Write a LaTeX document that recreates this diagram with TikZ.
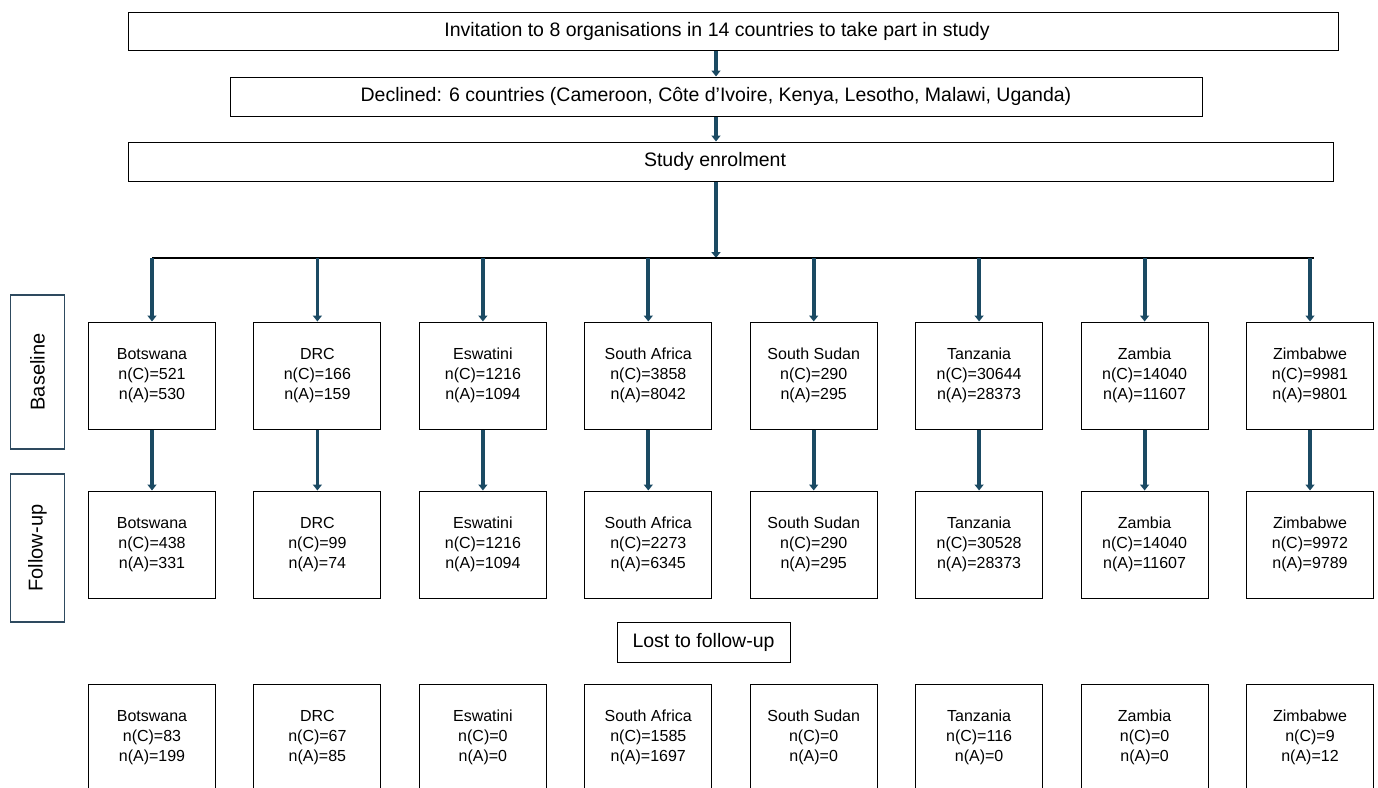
\documentclass[tikz,border=0pt]{standalone}
\usepackage{fontspec}
\setmainfont{Liberation Sans}
\usetikzlibrary{arrows.meta, positioning}
\definecolor{arrowblue}{HTML}{1B4A63}
\definecolor{sideblue}{HTML}{2E4A5F}
\tikzset{
    flowbox/.style={draw, line width=1pt, minimum height=38pt, inner sep=0pt, font=\fontsize{19.5}{22}\selectfont},
    countrybox/.style={draw, line width=1pt, minimum width=127pt, minimum height=107pt, inner sep=0pt, align=center, font=\fontsize{16}{20}\selectfont},
    sidebox/.style={draw=sideblue, line width=1.2pt, rotate=90, minimum height=54pt, inner sep=0pt, font=\fontsize{20}{22}\selectfont},
    flowarrow/.style={draw=arrowblue, line width=3.8pt, -{Triangle[width=9pt, length=6pt]}}
}

\begin{document}
\begin{tikzpicture}[x=1pt, y=-1pt]
    \useasboundingbox (0, 0) rectangle (1378, 787);
    \clip (0, 0) rectangle (1378, 787);
    % top of the flow
    \node[flowbox, minimum width=1210pt] (invite) at (733, 31.5) {\hspace*{-32pt}Invitation to 8 organisations in 14 countries to take part in study};
    \node[flowbox, minimum width=972pt, minimum height=39pt] (declined) at (716, 96.5) {Declined: 6 countries (Cameroon, Côte d'Ivoire, Kenya, Lesotho, Malawi, Uganda)};
    \node[flowbox, minimum width=1205pt, minimum height=39pt] (enrol) at (730.5, 161.5) {\hspace*{-31pt}Study enrolment};
    \coordinate (bushub) at (716, 258);
    \coordinate (busL) at (152, 258);
    \coordinate (busR) at (1314, 258);
    % side labels
    \node[sidebox, minimum width=154pt] (baseline) at (37.5, 372) {Baseline};
    \node[sidebox, minimum width=148pt] (followup) at (37.5, 548) {Follow-up};
    % baseline
    \node[countrybox] (b1) at (152, 375.5) {Botswana\\n(C)=521\\n(A)=530};
    \node[countrybox] (b2) at (317.4, 375.5) {DRC\\n(C)=166\\n(A)=159};
    \node[countrybox] (b3) at (482.9, 375.5) {Eswatini\\n(C)=1216\\n(A)=1094};
    \node[countrybox] (b4) at (648.3, 375.5) {South Africa\\n(C)=3858\\n(A)=8042};
    \node[countrybox] (b5) at (813.7, 375.5) {South Sudan\\n(C)=290\\n(A)=295};
    \node[countrybox] (b6) at (979.1, 375.5) {Tanzania\\n(C)=30644\\n(A)=28373};
    \node[countrybox] (b7) at (1144.6, 375.5) {Zambia\\n(C)=14040\\n(A)=11607};
    \node[countrybox] (b8) at (1310, 375.5) {Zimbabwe\\n(C)=9981\\n(A)=9801};
    % follow-up
    \node[countrybox] (f1) at (152, 544.5) {Botswana\\n(C)=438\\n(A)=331};
    \node[countrybox] (f2) at (317.4, 544.5) {DRC\\n(C)=99\\n(A)=74};
    \node[countrybox] (f3) at (482.9, 544.5) {Eswatini\\n(C)=1216\\n(A)=1094};
    \node[countrybox] (f4) at (648.3, 544.5) {South Africa\\n(C)=2273\\n(A)=6345};
    \node[countrybox] (f5) at (813.7, 544.5) {South Sudan\\n(C)=290\\n(A)=295};
    \node[countrybox] (f6) at (979.1, 544.5) {Tanzania\\n(C)=30528\\n(A)=28373};
    \node[countrybox] (f7) at (1144.6, 544.5) {Zambia\\n(C)=14040\\n(A)=11607};
    \node[countrybox] (f8) at (1310, 544.5) {Zimbabwe\\n(C)=9972\\n(A)=9789};
    % lost to follow-up
    \node[flowbox, minimum width=173pt, minimum height=40pt] (lost) at (703.5, 642) {Lost to follow-up};
    \node[countrybox] (l1) at (152, 737.5) {Botswana\\n(C)=83\\n(A)=199};
    \node[countrybox] (l2) at (317.4, 737.5) {DRC\\n(C)=67\\n(A)=85};
    \node[countrybox] (l3) at (482.9, 737.5) {Eswatini\\n(C)=0\\n(A)=0};
    \node[countrybox] (l4) at (648.3, 737.5) {South Africa\\n(C)=1585\\n(A)=1697};
    \node[countrybox] (l5) at (813.7, 737.5) {South Sudan\\n(C)=0\\n(A)=0};
    \node[countrybox] (l6) at (979.1, 737.5) {Tanzania\\n(C)=116\\n(A)=0};
    \node[countrybox] (l7) at (1144.6, 737.5) {Zambia\\n(C)=0\\n(A)=0};
    \node[countrybox] (l8) at (1310, 737.5) {Zimbabwe\\n(C)=9\\n(A)=12};
    % arrows
    \draw[flowarrow] (invite.south -| declined.north) -- (declined.north);
    \draw[flowarrow] (declined.south) -- (enrol.north -| declined.south);
    \draw[flowarrow] (enrol.south -| bushub) -- (bushub);
    \draw[line width=2pt] (busL) -- (busR);
    \draw[flowarrow] (busL) -- (b1.north);
    \draw[flowarrow] (busL -| b2.north) -- (b2.north);
    \draw[flowarrow] (busL -| b3.north) -- (b3.north);
    \draw[flowarrow] (busL -| b4.north) -- (b4.north);
    \draw[flowarrow] (busL -| b5.north) -- (b5.north);
    \draw[flowarrow] (busL -| b6.north) -- (b6.north);
    \draw[flowarrow] (busL -| b7.north) -- (b7.north);
    \draw[flowarrow] (busL -| b8.north) -- (b8.north);
    \draw[flowarrow] (b1.south) -- (f1.north);
    \draw[flowarrow] (b2.south) -- (f2.north);
    \draw[flowarrow] (b3.south) -- (f3.north);
    \draw[flowarrow] (b4.south) -- (f4.north);
    \draw[flowarrow] (b5.south) -- (f5.north);
    \draw[flowarrow] (b6.south) -- (f6.north);
    \draw[flowarrow] (b7.south) -- (f7.north);
    \draw[flowarrow] (b8.south) -- (f8.north);
\end{tikzpicture}
\end{document}
